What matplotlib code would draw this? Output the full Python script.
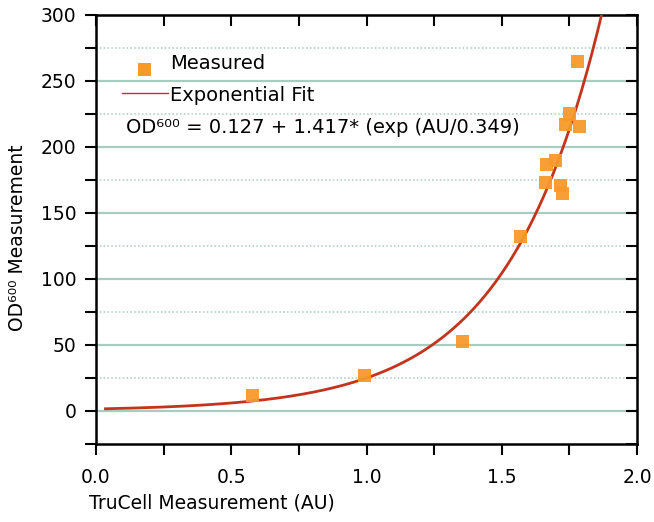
import matplotlib
matplotlib.use("Agg")
import matplotlib.pyplot as plt
import numpy as np

plt.rcParams['font.family'] = ['DejaVu Sans']

# measured points
truecell_au = [0.579, 0.992, 1.354, 1.571, 1.660, 1.664, 1.697, 1.717, 1.723,
               1.737, 1.750, 1.781, 1.787]
od600 = [11.4, 26.7, 53.0, 132.0, 173.0, 187.0, 190.0, 170.5, 165.0,
         217.0, 225.0, 265.0, 215.7]

# exponential fit parameters as printed on the chart
fit_y0 = 0.127
fit_a = 1.417
fit_t = 0.349
fit_x_start = 0.035

x_ticks = [0.0, 0.5, 1.0, 1.5, 2.0]
y_ticks = [0, 50, 100, 150, 200, 250, 300]

grid_col = "#a6cdbf"
orange = "#f7992b"
red = "#c4341c"

fig = plt.figure(figsize=(6.54, 5.22), dpi=100)
ax = fig.add_axes([96 / 654, 78 / 522, 541 / 654, 429 / 522])

ax.set_xlim(0, 2.0)
ax.set_ylim(-25, 300)

# grid: solid at labelled values, dotted in between
for v in y_ticks:
    ax.axhline(v, color=grid_col, lw=1.6, zorder=0)
for v in np.arange(25, 300, 50):
    ax.axhline(v, color=grid_col, lw=1.1, ls=(0, (1, 1.5)), zorder=0)

xs = np.linspace(fit_x_start, 2.0, 400)
ys = fit_y0 + fit_a * np.exp(xs / fit_t)
ax.plot(xs, ys, color=red, lw=2, zorder=3)

ax.scatter(truecell_au, od600, marker='s', s=88, color=orange,
           edgecolors='none', alpha=0.95, zorder=4)

ax.set_xticks(x_ticks)
ax.set_xticklabels([f"{v:.1f}" for v in x_ticks])
ax.set_xticks(np.arange(0, 2.01, 0.25), minor=True)
ax.set_yticks(y_ticks)
ax.set_yticks(np.arange(-25, 301, 25), minor=True)
ax.tick_params(which='both', direction='out', length=8, width=1.5)
ax.tick_params(axis='x', which='major', pad=9, labelsize=13.5)
ax.tick_params(axis='y', which='major', pad=6, labelsize=13.5)
for s in ax.spines.values():
    s.set_linewidth(1.8)

top = ax.secondary_xaxis('top')
top.set_xticks(np.arange(0, 2.01, 0.25))
top.tick_params(direction='in', length=8, width=1.5, labeltop=False)
right = ax.secondary_yaxis('right')
right.set_yticks(np.arange(-25, 301, 25))
right.tick_params(direction='in', length=8, width=1.5, labelright=False)

# legend drawn by hand to match placement
ax.scatter([0.178], [259], marker='s', s=88, color=orange,
           edgecolors='none', zorder=4)
ax.text(0.275, 263, "Measured", fontsize=14, va='center')
ax.plot([0.095, 0.265], [241, 241], color=red, lw=1, zorder=4)
ax.text(0.275, 239, "Exponential Fit", fontsize=14, va='center')
ax.text(0.11, 215,
        "OD\u2076\u2070\u2070 = 0.127 + 1.417* (exp (AU/0.349)",
        fontsize=14, va='center')

fig.text(212 / 654, 1 - 503 / 522, "TruCell Measurement (AU)", fontsize=13.5,
         ha='center', va='center')
fig.text(18 / 654, 1 - 238 / 522, "OD\u2076\u2070\u2070 Measurement",
         fontsize=13.5, ha='center', va='center', rotation=90)

fig.savefig("out.png", dpi=100)
